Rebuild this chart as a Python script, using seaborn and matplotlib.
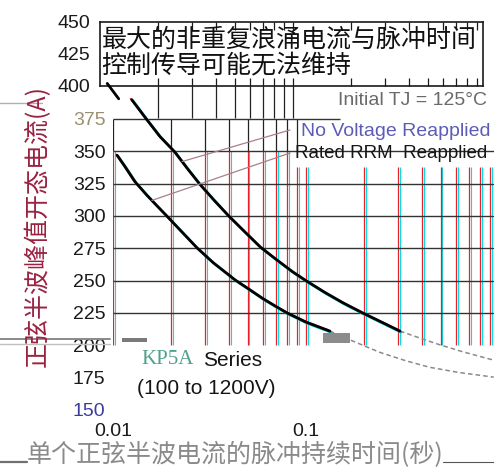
import numpy as np
import pandas as pd
import matplotlib
matplotlib.use("Agg")
import matplotlib.pyplot as plt
import seaborn as sns
from matplotlib import transforms
from matplotlib.lines import Line2D
from matplotlib.patches import Rectangle
from matplotlib.ticker import NullLocator

# ---------------- data ----------------
time_no_voltage = [0.0109, 0.0125, 0.0148, 0.0175, 0.0209, 0.0245, 0.0282, 0.0335, 0.0398,
                   0.048, 0.058, 0.07, 0.085, 0.100, 0.125, 0.155, 0.197, 0.25, 0.307]
current_no_voltage = [402, 390, 375.5, 361.5, 349.5, 336, 324.5, 312, 300,
                      288, 276, 266.5, 257, 250, 241, 233, 225, 217.5, 211]
time_no_voltage_tail = [0.307, 0.4, 0.494, 0.65, 0.94]
current_no_voltage_tail = [211, 205, 200.4, 195, 188.5]

time_rated = [0.0105, 0.0115, 0.013, 0.015, 0.017, 0.019, 0.022, 0.0272, 0.033, 0.043,
              0.05, 0.06, 0.07, 0.08, 0.1, 0.133]
current_rated = [347, 338.5, 326.5, 316, 307.5, 300, 290, 275.5, 264, 250.5,
                 244, 236, 230, 225, 218, 211]
time_rated_tail = [0.133, 0.18, 0.241, 0.33, 0.438, 0.62, 0.94]
current_rated_tail = [211, 202.5, 194.6, 188, 183, 179, 175.4]

y_ticks_main = [150, 175, 200, 225, 250, 275, 300, 325, 350, 375]
y_ticks_box = [400, 425, 450]
x_ticks = [0.01, 0.1]
x_tick_labels = ["0.01", "0.1"]
grid_h = [225, 250, 275, 300, 325, 350]
grid_v = [k * 10.0 ** e for e in (-2, -1) for k in range(1, 10)]

title_lines = ["最大的非重复浪涌电流与脉冲时间", "控制传导可能无法维持"]
y_label = "正弦半波峰值开态电流(A)"
x_label = "单个正弦半波电流的脉冲持续时间(秒)"
label_no_voltage = "No Voltage Reapplied"
label_rated = "Rated RRM  Reapplied"
label_tj = "Initial TJ = 125°C"
series_name = "KP5A"
series_rest = "Series"
series_range = "(100 to 1200V)"

# ---------------- style ----------------
sns.set_style("white")
plt.rcParams["font.family"] = ["Liberation Sans", "DejaVu Sans"]
CJK = ["Noto Sans CJK SC", "DejaVu Sans"]

W, H = 494, 467
def fx(px):
    return px / W
def fy(py):
    return 1 - py / H

fig = plt.figure(figsize=(W / 100, H / 100), dpi=100)
fig.patch.set_facecolor("white")

# ---------------- main axes ----------------
ax = fig.add_axes([fx(113), fy(410), 386 / W, 388 / H])
ax.set_xscale("log")
ax.set_xlim(0.01, 1.0)
ax.set_ylim(150, 450)
ax.set_facecolor("none")
for s in ax.spines.values():
    s.set_visible(False)

ax.set_yticks(y_ticks_main, labels=[str(v) for v in y_ticks_main])
ax.tick_params(axis="y", length=0, pad=5.5, labelsize=14, labelcolor="#1a1a1a")
ax.set_xticks(x_ticks, labels=x_tick_labels)
ax.xaxis.set_minor_locator(NullLocator())
ax.tick_params(axis="x", length=0, pad=9, labelsize=14, labelcolor="#1a1a1a")
for lab in ax.get_yticklabels():
    if lab.get_text() == "150":
        lab.set_color("#3c3ca0")
    elif lab.get_text() == "375":
        lab.set_color("#9a9070")

cyan_off = transforms.offset_copy(ax.transData, fig=fig, x=1.5, y=0, units="dots")
low_v = [v for v in grid_v if v < 0.085]
high_v = [v for v in grid_v if v >= 0.085]
ax.vlines(low_v, 200, 350, colors="#00e0e8", lw=0.8, transform=cyan_off, zorder=1)
ax.vlines(high_v, 200, 338, colors="#00e0e8", lw=0.8, transform=cyan_off, zorder=1)
ax.vlines(low_v, 200, 350, colors="#e8202a", lw=0.9, zorder=1.1)
ax.vlines(high_v, 200, 338, colors="#e8202a", lw=0.9, zorder=1.1)
ax.vlines([v for v in grid_v if v <= 0.09], 350, 375, colors="#222222", lw=0.9, zorder=1)
ax.hlines(grid_h, 0.01, 1.0, colors="#333333", lw=1.0, zorder=1.2)
ax.hlines([375], 0.01, 0.15, colors="#333333", lw=1.0, zorder=1.2)

# curves with colour fringes
red_off = transforms.offset_copy(ax.transData, fig=fig, x=-1.2, y=0.9, units="dots")
cy_off = transforms.offset_copy(ax.transData, fig=fig, x=1.3, y=-1.3, units="dots")
for xs, ys in [(time_no_voltage[1:], current_no_voltage[1:]), (time_rated, current_rated)]:
    ax.plot(xs, ys, color="#ff4060", lw=1.2, transform=red_off, zorder=2)
    ax.plot(xs, ys, color="#00c8d0", lw=1.8, transform=cy_off, zorder=2)

df_nv = pd.DataFrame({"t": time_no_voltage[1:], "i": current_no_voltage[1:]})
df_rt = pd.DataFrame({"t": time_rated, "i": current_rated})
sns.lineplot(data=df_nv, x="t", y="i", ax=ax, color="black", lw=2.0, sort=False,
             estimator=None, zorder=3)
sns.lineplot(data=df_rt, x="t", y="i", ax=ax, color="black", lw=2.0, sort=False,
             estimator=None, zorder=3)
ax.plot(time_no_voltage_tail, current_no_voltage_tail, color="#8a8a8a", lw=1.1,
        ls=(0, (3, 2)), zorder=2)
ax.plot(time_rated_tail, current_rated_tail, color="#8a8a8a", lw=1.1,
        ls=(0, (3, 2)), zorder=2)
ax.set_xlabel("")
ax.set_ylabel("")

def on_curve(t, xs, ys):
    return float(np.interp(np.log10(t), np.log10(xs), ys))

lead_end_t = 0.0826
ax.annotate("", xy=(0.0228, on_curve(0.0228, time_no_voltage, current_no_voltage)),
            xytext=(lead_end_t, 366.5),
            arrowprops=dict(arrowstyle="-", color="#a8808c", lw=0.9, shrinkA=0, shrinkB=0))
ax.annotate("", xy=(0.0159, on_curve(0.0159, time_rated, current_rated)),
            xytext=(lead_end_t, 348.7),
            arrowprops=dict(arrowstyle="-", color="#a8808c", lw=0.9, shrinkA=0, shrinkB=0))

# ---------------- title box (shifted layer) ----------------
axb = fig.add_axes([fx(100), fy(86), 383 / W, 64 / H])
axb.set_xscale("log")
axb.set_xlim(0.01, 10 ** (-2 + 383 / 193))
axb.set_ylim(400, 450)
axb.set_facecolor("white")
for s in axb.spines.values():
    s.set_color("#1a1a1a")
    s.set_linewidth(1.2)
axb.xaxis.set_minor_locator(NullLocator())
axb.set_xticks([v for v in grid_v if v > 0.01], labels=[""] * 17)
axb.tick_params(axis="x", direction="in", top=True, bottom=True, length=6, width=0.9,
                color="#1a1a1a")
axb.set_yticks(y_ticks_box, labels=[str(v) for v in y_ticks_box])
axb.tick_params(axis="y", length=0, pad=7, labelsize=14, labelcolor="#1a1a1a")
axb.plot(time_no_voltage[:2], current_no_voltage[:2], color="black", lw=2.0,
         clip_on=False, zorder=3)
axb.vlines([v for v in grid_v if 0.01 < v <= 0.1], 375, 400, colors="#222222", lw=0.9,
           clip_on=False)
axb.text(0.004, 0.73, title_lines[0], transform=axb.transAxes, fontsize=18,
         family=CJK, va="center", ha="left", color="#111111")
axb.text(0.004, 0.31, title_lines[1], transform=axb.transAxes, fontsize=18,
         family=CJK, va="center", ha="left", color="#111111")

# ---------------- annotations ----------------
fig.text(fx(338), fy(100), label_tj, fontsize=14, color="#6a6a6a", va="center", ha="left")
fig.text(fx(301), fy(131), label_no_voltage, fontsize=14, color="#5c5cb8",
         va="center", ha="left")
fig.text(fx(295), fy(154), label_rated, fontsize=13.5, color="#151515",
         va="center", ha="left")
fig.text(fx(141), fy(359), series_name, fontsize=15, color="#4fa08c",
         family=["Liberation Serif", "DejaVu Serif"], va="center", ha="left")
fig.text(fx(203), fy(361), series_rest, fontsize=15, color="#151515", va="center", ha="left")
fig.text(fx(137), fy(388), series_range, fontsize=15, color="#151515", va="center", ha="left")

fig.text(fx(38), fy(226), y_label, rotation=90, fontsize=18, family=CJK,
         color="#9a2242", va="center", ha="center")
fig.text(fx(235), fy(455), x_label, fontsize=18, family=CJK, color="#8a8a8a",
         va="center", ha="center")

# ---------------- scan artefacts ----------------
fig.add_artist(Rectangle((fx(323), fy(343)), 27 / W, 10 / H, transform=fig.transFigure,
                         color="#8c8c8c", lw=0))
fig.add_artist(Rectangle((fx(122), fy(342)), 25 / W, 4 / H, transform=fig.transFigure,
                         color="#7a7a7a", lw=0))
fig.add_artist(Line2D([0, fx(42)], [fy(103)] * 2, color="#b0b0b0", lw=1.0,
                      transform=fig.transFigure))
fig.add_artist(Line2D([0, fx(110)], [fy(339)] * 2, color="#8a8a8a", lw=1.4,
                      transform=fig.transFigure))
fig.add_artist(Line2D([0, fx(110)], [fy(344)] * 2, color="#c0c0c0", lw=1.0,
                      transform=fig.transFigure))
fig.add_artist(Line2D([0, fx(27)], [fy(462)] * 2, color="#707070", lw=1.6,
                      transform=fig.transFigure))
fig.add_artist(Line2D([fx(443), 1], [fy(462)] * 2, color="#555555", lw=0.8,
                      transform=fig.transFigure))

fig.savefig("out.png", dpi=100, facecolor="white")
